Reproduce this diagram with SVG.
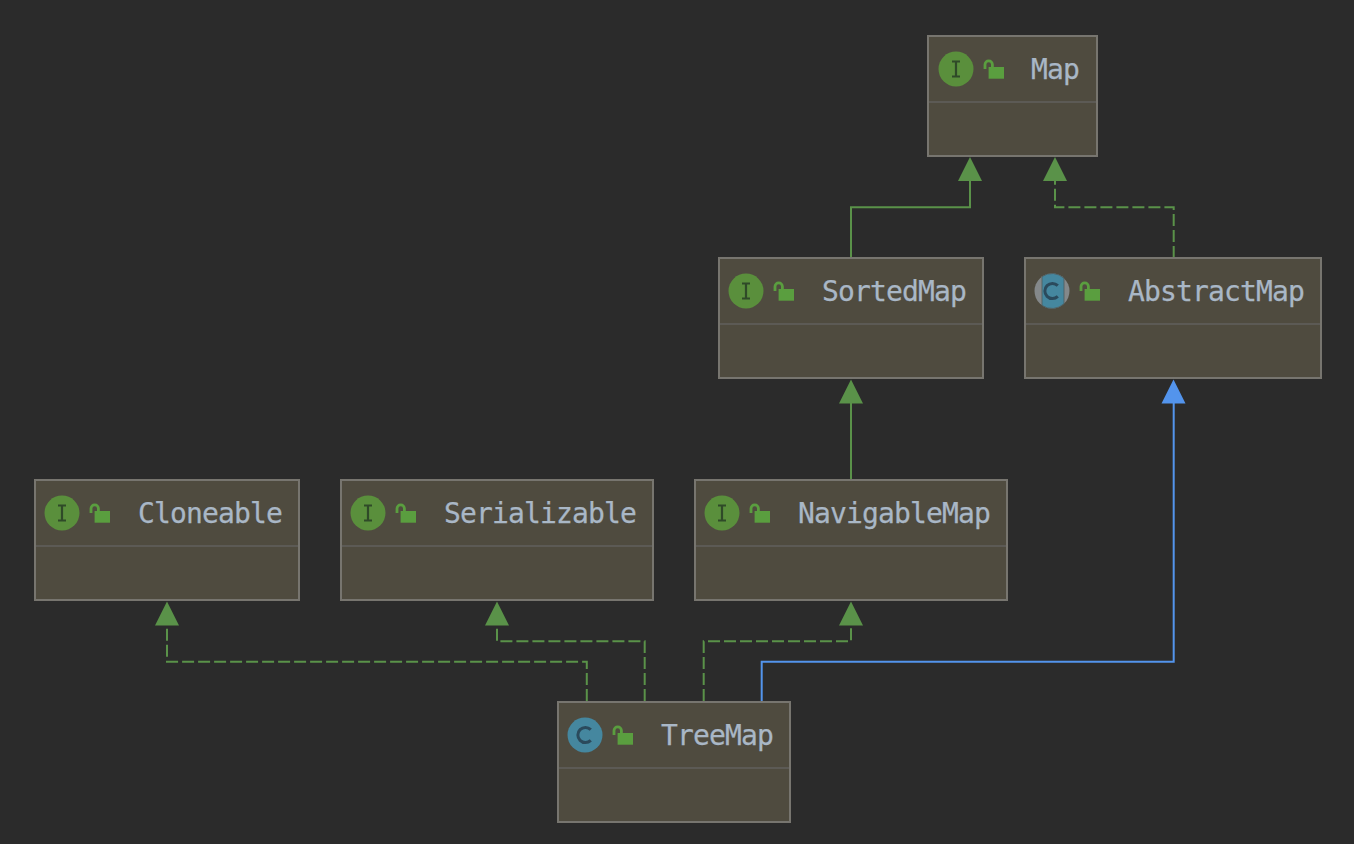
<svg xmlns="http://www.w3.org/2000/svg" xmlns:xlink="http://www.w3.org/1999/xlink" width="1354" height="844" viewBox="0 0 1354 844">
  <style>
    .box { fill: #4f4b3f; stroke: #77756f; stroke-width: 2; }
    .rule { stroke: #5c5a55; stroke-width: 2; }
    .name { font-family: "DejaVu Sans Mono", monospace; font-size: 28px; letter-spacing: -0.85px; fill: #a9b7c6; stroke: #a9b7c6; stroke-width: 0.25; }
    .edge { fill: none; stroke-width: 2; }
    .green { stroke: #5a9249; }
    .blue { stroke: #5394ec; }
    .dash { stroke-dasharray: 12 4; }
    .headg { fill: #5a9249; }
    .headb { fill: #5394ec; }
  </style>
  <defs>
    <g id="lock">
      <path d="M1 10 V5.500 A3.700 3.700 0 0 1 8.400 5.500 V8" fill="none" stroke="#5a9e3f" stroke-width="2.800"/>
      <rect x="4.600" y="8" width="15.400" height="11.700" fill="#5a9e3f"/>
    </g>
    <g id="iface">
      <circle r="17.500" fill="#5a8f3c"/>
      <path d="M-4 -7.500 H4 M-4 7.500 H4 M0 -7.500 V7.500" fill="none" stroke="#2f4a28" stroke-width="2.200"/>
    </g>
    <path id="ring" d="M5.800 -5.400 A7.600 7.600 0 1 0 5.800 5.400" fill="none" stroke="#2b4a5c" stroke-width="3"/>
    <polygon id="tip" points="0,0 12,24 -12,24"/>
  </defs>

  <rect width="1354" height="844" fill="#2b2b2b"/>

  <g id="connectors">
    <path class="edge green" d="M851 258 V207.300 H970 V178"/>
    <use xlink:href="#tip" href="#tip" class="headg" x="970" y="157"/>
    <path class="edge green dash" d="M1173.700 258 V207.300 H1055 V178"/>
    <use xlink:href="#tip" href="#tip" class="headg" x="1055" y="157"/>
    <path class="edge green" d="M851 480 V400"/>
    <use xlink:href="#tip" href="#tip" class="headg" x="851" y="379.500"/>
    <path class="edge blue" d="M761.700 702 V661.700 H1173.700 V400"/>
    <use xlink:href="#tip" href="#tip" class="headb" x="1173.500" y="379.500"/>
    <path class="edge green dash" d="M586.800 701 V661.700 H167 V622"/>
    <use xlink:href="#tip" href="#tip" class="headg" x="167" y="601.500"/>
    <path class="edge green dash" d="M644.700 701 V641.300 H497 V622"/>
    <use xlink:href="#tip" href="#tip" class="headg" x="497" y="601.500"/>
    <path class="edge green dash" d="M703.700 701 V641.300 H851 V622"/>
    <use xlink:href="#tip" href="#tip" class="headg" x="851" y="601.500"/>
  </g>

  <g id="map">
    <rect class="box" x="928" y="36" width="169" height="120"/>
    <line class="rule" x1="929" y1="102" x2="1096" y2="102"/>
    <use xlink:href="#iface" href="#iface" x="956" y="69"/>
    <use xlink:href="#lock" href="#lock" x="984" y="59"/>
    <text class="name" x="1031" y="79">Map</text>
  </g>

  <g id="sortedmap">
    <rect class="box" x="719" y="258" width="264" height="120"/>
    <line class="rule" x1="720" y1="324" x2="982" y2="324"/>
    <use xlink:href="#iface" href="#iface" x="746" y="291"/>
    <use xlink:href="#lock" href="#lock" x="774" y="281"/>
    <text class="name" x="822" y="301">SortedMap</text>
  </g>

  <g id="abstractmap">
    <rect class="box" x="1025" y="258" width="296" height="120"/>
    <line class="rule" x1="1026" y1="324" x2="1320" y2="324"/>
    <circle cx="1052" cy="291" r="17.500" fill="#84888a"/>
    <path d="M1042 276.600 A17.500 17.500 0 0 1 1064 278.300 V303.700 A17.500 17.500 0 0 1 1042 305.400 Z" fill="#45879f" stroke="#4f5a5c" stroke-width="0.800"/>
    <use xlink:href="#ring" href="#ring" x="1052" y="291"/>
    <use xlink:href="#lock" href="#lock" x="1080" y="281"/>
    <text class="name" x="1128" y="301">AbstractMap</text>
  </g>

  <g id="cloneable">
    <rect class="box" x="35" y="480" width="264" height="120"/>
    <line class="rule" x1="36" y1="546" x2="298" y2="546"/>
    <use xlink:href="#iface" href="#iface" x="62" y="513"/>
    <use xlink:href="#lock" href="#lock" x="90" y="503"/>
    <text class="name" x="138" y="523">Cloneable</text>
  </g>

  <g id="serializable">
    <rect class="box" x="341" y="480" width="312" height="120"/>
    <line class="rule" x1="342" y1="546" x2="652" y2="546"/>
    <use xlink:href="#iface" href="#iface" x="368" y="513"/>
    <use xlink:href="#lock" href="#lock" x="396" y="503"/>
    <text class="name" x="444" y="523">Serializable</text>
  </g>

  <g id="navigablemap">
    <rect class="box" x="695" y="480" width="312" height="120"/>
    <line class="rule" x1="696" y1="546" x2="1006" y2="546"/>
    <use xlink:href="#iface" href="#iface" x="722" y="513"/>
    <use xlink:href="#lock" href="#lock" x="750" y="503"/>
    <text class="name" x="798" y="523">NavigableMap</text>
  </g>

  <g id="treemap">
    <rect class="box" x="558" y="702" width="232" height="120"/>
    <line class="rule" x1="559" y1="768" x2="789" y2="768"/>
    <circle cx="585" cy="735" r="17.500" fill="#45879f"/>
    <use xlink:href="#ring" href="#ring" x="585" y="735"/>
    <use xlink:href="#lock" href="#lock" x="613" y="725"/>
    <text class="name" x="661" y="745">TreeMap</text>
  </g>
</svg>
